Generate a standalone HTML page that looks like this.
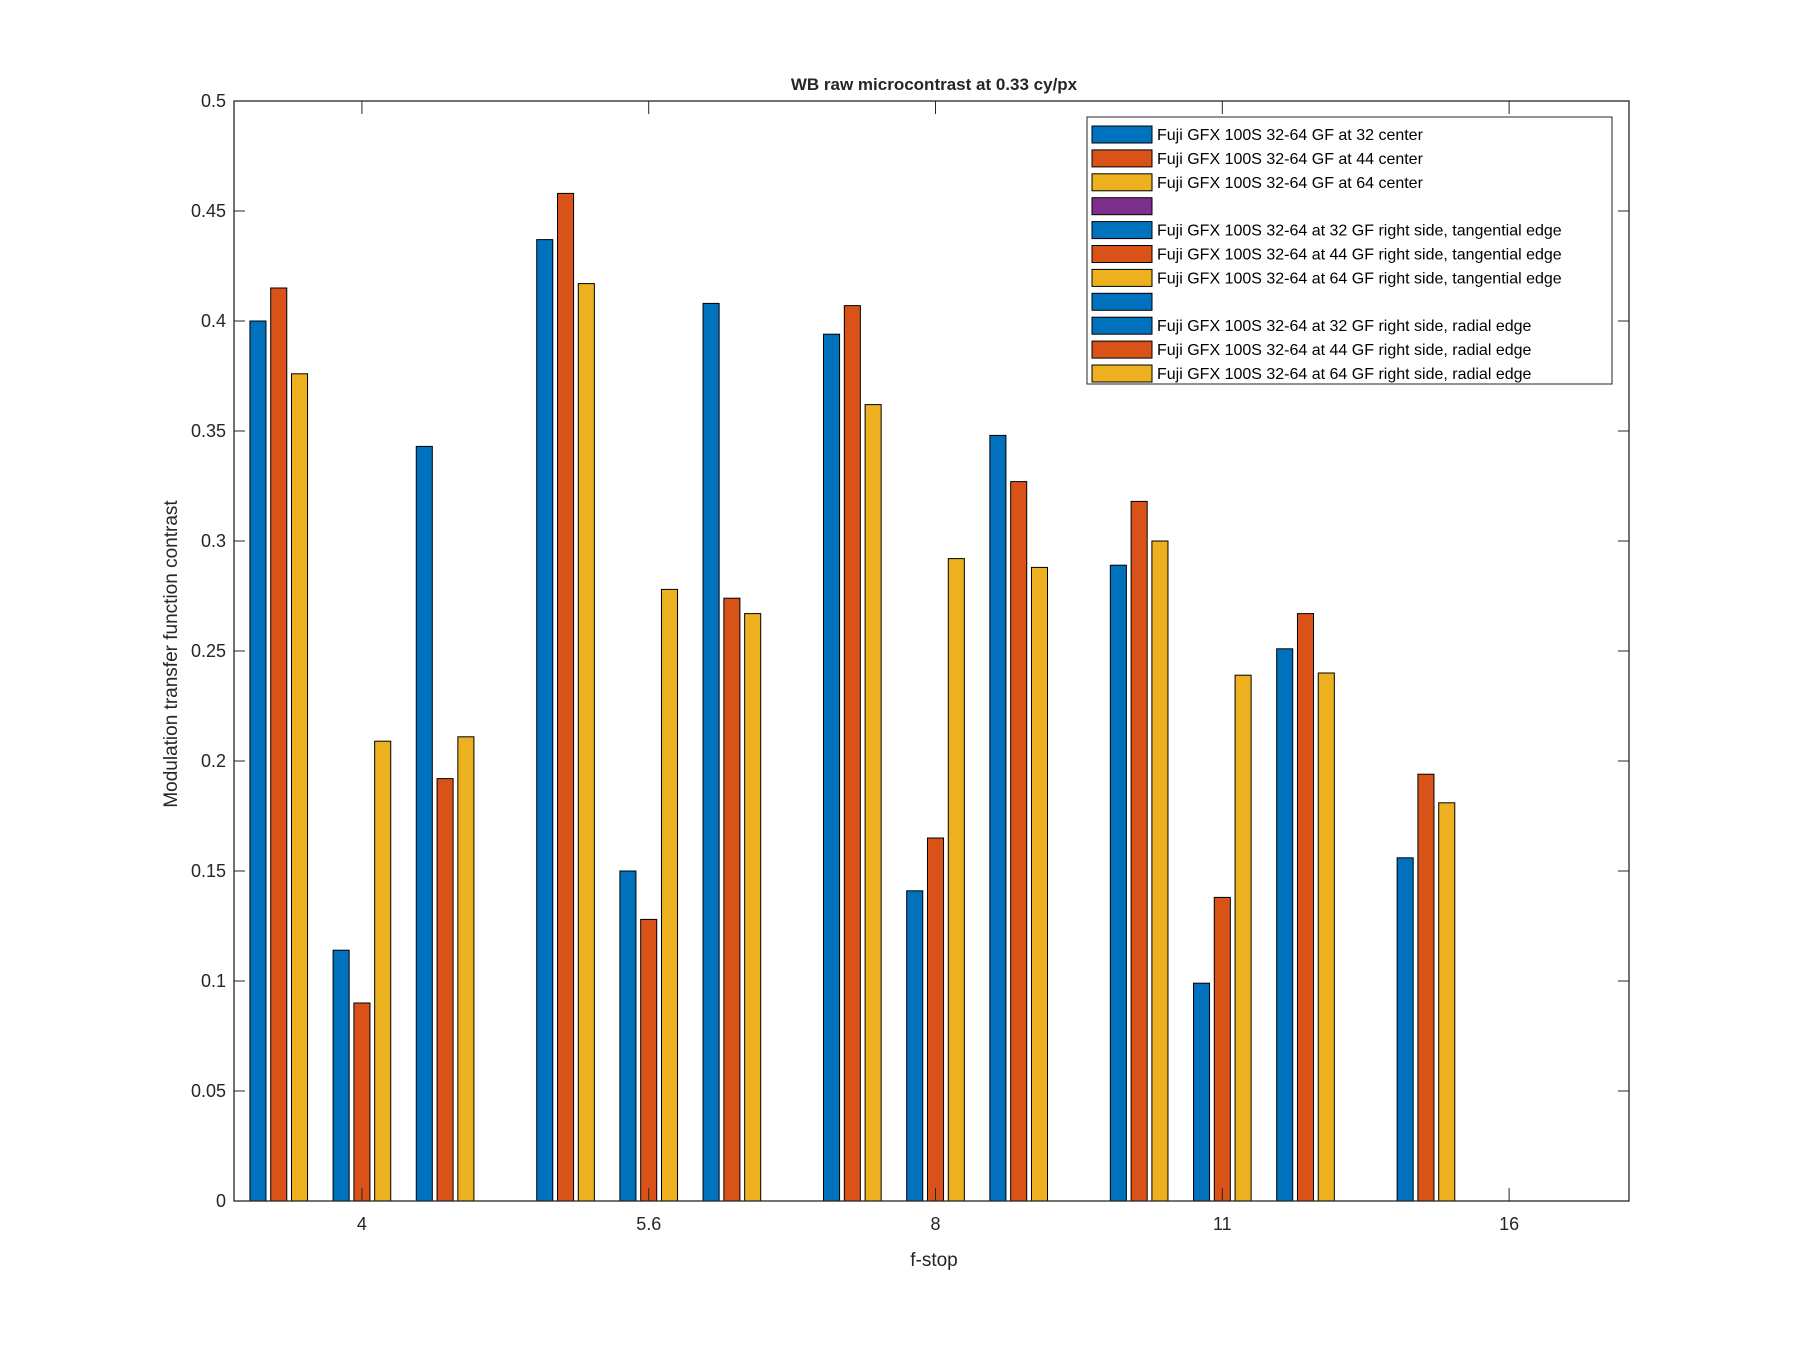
<!DOCTYPE html>
<html><head><meta charset="utf-8"><style>
body{margin:0;background:#fff;}
svg{display:block;font-family:"Liberation Sans",Arial,sans-serif;}
</style></head><body>
<svg id="chart" width="1800" height="1350" viewBox="0 0 1800 1350" xmlns="http://www.w3.org/2000/svg">
<rect width="1800" height="1350" fill="#fff"/>
<g id="bars"></g>
<g id="axes"></g>
<g id="legend"></g>
<text x="934" y="90" text-anchor="middle" font-size="17" font-weight="bold" fill="#262626">WB raw  microcontrast at 0.33 cy/px</text>
<text x="934" y="1266" text-anchor="middle" font-size="19" fill="#262626">f-stop</text>
<text transform="translate(177,654) rotate(-90)" text-anchor="middle" font-size="19" fill="#262626">Modulation transfer function contrast</text>
</svg>
<script>
const categories = ["4","5.6","8","11","16"];
const seriesNames = [
 "Fuji GFX 100S 32-64 GF at 32 center",
 "Fuji GFX 100S 32-64 GF at 44 center",
 "Fuji GFX 100S 32-64 GF at 64 center",
 "",
 "Fuji GFX 100S 32-64 at 32 GF right side, tangential edge",
 "Fuji GFX 100S 32-64 at 44 GF right side, tangential edge",
 "Fuji GFX 100S 32-64 at 64 GF right side, tangential edge",
 "",
 "Fuji GFX 100S 32-64 at 32 GF right side, radial edge",
 "Fuji GFX 100S 32-64 at 44 GF right side, radial edge",
 "Fuji GFX 100S 32-64 at 64 GF right side, radial edge"
];
const seriesColors = ["#0072BD","#D95319","#EDB120","#7E2F8E","#0072BD","#D95319","#EDB120","#0072BD","#0072BD","#D95319","#EDB120"];
const s1 = [0.400,0.437,0.394,0.289,0.156];
const s2 = [0.415,0.458,0.407,0.318,0.194];
const s3 = [0.376,0.417,0.362,0.300,0.181];
const s4 = [0,0,0,0,0];
const s5 = [0.114,0.150,0.141,0.099,0];
const s6 = [0.090,0.128,0.165,0.138,0];
const s7 = [0.209,0.278,0.292,0.239,0];
const s8 = [0,0,0,0,0];
const s9 = [0.343,0.408,0.348,0.251,0];
const s10 = [0.192,0.274,0.327,0.267,0];
const s11 = [0.211,0.267,0.288,0.240,0];
const yTicks = [0,0.05,0.1,0.15,0.2,0.25,0.3,0.35,0.4,0.45,0.5];
const yTickLabels = ["0","0.05","0.1","0.15","0.2","0.25","0.3","0.35","0.4","0.45","0.5"];

const series = [s1,s2,s3,s4,s5,s6,s7,s8,s9,s10,s11];
const L=234,R=1629,T=101,B=1201;
const xMin=0.554,xMax=5.418,yMin=0,yMax=0.5;
const xs = v => L+(v-xMin)/(xMax-xMin)*(R-L);
const ys = v => B-(v-yMin)/(yMax-yMin)*(B-T);
const NS="http://www.w3.org/2000/svg";
function mk(tag,attrs,parent){const e=document.createElementNS(NS,tag);for(const k in attrs)e.setAttribute(k,attrs[k]);parent.appendChild(e);return e;}
const gb=document.getElementById('bars'), ga=document.getElementById('axes'), gl=document.getElementById('legend');
const step=0.0725, bw=0.056;
series.forEach((vals,si)=>{
  vals.forEach((v,ci)=>{
    if(v<=0) return;
    const c=(ci+1)+(si-5)*step;
    const x0=xs(c-bw/2), x1=xs(c+bw/2);
    const r=mk('rect',{x:x0,y:ys(v),width:x1-x0,height:ys(0)-ys(v),fill:seriesColors[si],stroke:'#000','stroke-width':1},gb);
    
    
  });
});
mk('rect',{x:L,y:T,width:R-L,height:B-T,fill:'none',stroke:'#262626','stroke-width':1.3},ga);
yTicks.forEach((t,i)=>{
  const y=ys(t);
  mk('line',{x1:L,x2:L+11,y1:y,y2:y,stroke:'#262626'},ga);
  mk('line',{x1:R,x2:R-11,y1:y,y2:y,stroke:'#262626'},ga);
  const tx=mk('text',{x:L-8,y:y+6,'text-anchor':'end','font-size':18,fill:'#262626'},ga);
  tx.textContent=yTickLabels[i];
  
  
});
categories.forEach((c,i)=>{
  const x=xs(i+1);
  mk('line',{x1:x,x2:x,y1:B,y2:B-13,stroke:'#262626'},ga);
  mk('line',{x1:x,x2:x,y1:T,y2:T+13,stroke:'#262626'},ga);
  const tx=mk('text',{x:x,y:B+29,'text-anchor':'middle','font-size':18,fill:'#262626'},ga);
  tx.textContent=c;
  
  
});
const lb=mk('rect',{x:1087,y:117,width:525,height:267,fill:'#fff',stroke:'#262626','stroke-width':1},gl);


seriesNames.forEach((n,i)=>{
  const cy=134+i*23.9;
  const sw=mk('rect',{x:1092,y:cy-8,width:60,height:17,fill:seriesColors[i],stroke:'#000','stroke-width':1},gl);
  
  
  const tx=mk('text',{x:1157,y:cy+6,'font-size':16,fill:'#000'},gl);
  tx.textContent=n;
  
  
});
</script>
</body></html>
